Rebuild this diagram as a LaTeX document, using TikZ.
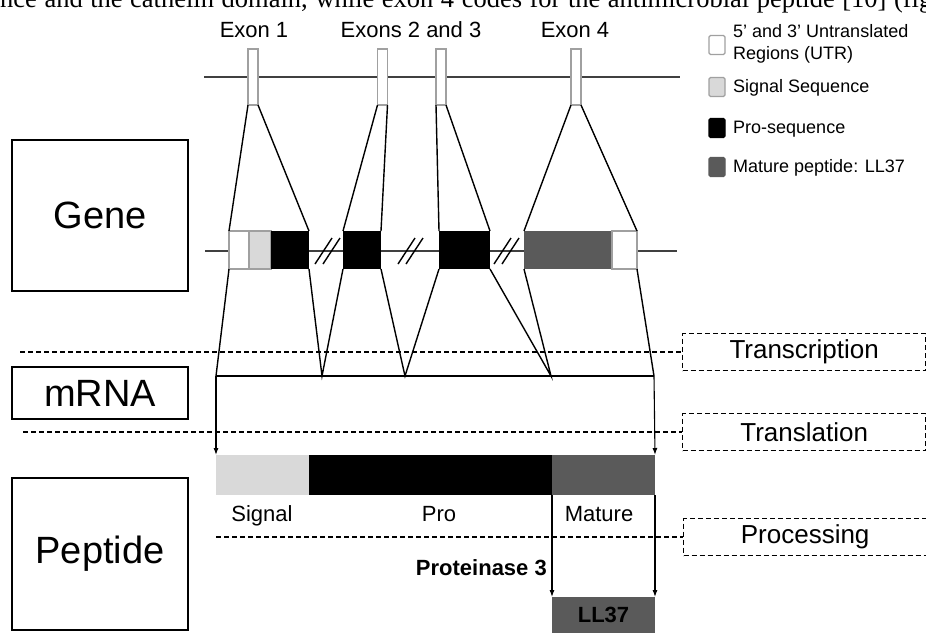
\documentclass[tikz,border=0pt]{standalone}
\usepackage{fontspec}
\setmainfont{Liberation Sans}
\newfontfamily\paperfont{Liberation Serif}
\usetikzlibrary{arrows.meta}

\definecolor{siggray}{HTML}{D9D9D9}
\definecolor{matgray}{HTML}{5A5A5A}
\definecolor{rimgray}{HTML}{A0A0A0}
\definecolor{dnagray}{HTML}{404040}

\tikzset{
  seg/.style={rectangle, inner sep=0pt, outer sep=0pt, anchor=south west},
  utrpart/.style={seg, fill=white, draw=rimgray, line width=1.2pt},
  sigpart/.style={seg, fill=siggray, draw=rimgray, line width=1.2pt},
  propart/.style={seg, fill=black},
  matpart/.style={seg, fill=matgray},
  exonbox/.style={rectangle, inner sep=0pt, outer sep=0pt, minimum width=10pt, minimum height=56pt, fill=white, draw=rimgray, line width=1.2pt},
  stagebox/.style={draw, line width=1.3pt, minimum width=176pt, inner sep=0pt, font=\fontsize{38}{40}\selectfont},
  stepname/.style={draw, dash pattern=on 5pt off 3pt, line width=1.3pt, minimum width=243pt, minimum height=37pt, inner sep=0pt, anchor=west, font=\fontsize{26}{28}\selectfont},
  keybox/.style={rectangle, rounded corners=1.5pt, minimum width=16pt, minimum height=19pt, inner sep=0pt, draw=rimgray, line width=1.2pt},
  keytext/.style={anchor=west, align=left, inner sep=0pt, font=\fontsize{18}{22}\selectfont},
  lbl/.style={anchor=base, inner sep=0pt, font=\fontsize{22}{24}\selectfont},
  phase/.style={dash pattern=on 5pt off 3pt, line width=1.4pt},
  exonlink/.style={line width=1.4pt},
  cut/.style={-{Latex[length=7pt,width=5pt]}, line width=1.1pt}
}

\begin{document}
\begin{tikzpicture}[x=1pt, y=-1pt]
    \useasboundingbox (0,0) rectangle (926,633);

    % clipped line of the surrounding text
    \begin{scope}
        \clip (0,0) rectangle (926,633);
        \node[anchor=base west, inner sep=0pt, font=\paperfont\fontsize{26.5}{28}\selectfont] (paper) at (0,7)
            {\hbox to 932pt{nce and the cathelin domain, while exon 4 codes for the antimicrobial peptide [10] (fig}};
    \end{scope}

    % --- stages on the left ---
    \node[stagebox, minimum height=151pt] (gene) at (100,215.5) {Gene};
    \node[stagebox, minimum height=52pt] (mrna) at (100,393) {mRNA};
    \node[stagebox, minimum height=152pt] (peptide) at (100,554) {Peptide};

    % --- genomic locus (top) ---
    \draw[dnagray, line width=1.3pt] (204,77) -- (680,77);
    \node[exonbox] (ex1) at (253,77) {};
    \node[exonbox] (ex2) at (382.5,77) {};
    \node[exonbox] (ex3) at (441,77) {};
    \node[exonbox] (ex4) at (576,77) {};
    \node[lbl] (lex1) at (254,37) {Exon 1};
    \node[lbl] (lex23) at (411,37) {Exons 2 and 3};
    \node[lbl] (lex4) at (575,37) {Exon 4};

    % --- exons enlarged ---
    \draw[dnagray, line width=1.3pt] (205,251) -- (677,251);
    \node[utrpart, minimum width=20pt, minimum height=38pt] (utr5) at (229,269) {};
    \node[sigpart, minimum width=22pt, minimum height=38pt] (sig) at (249,269) {};
    \node[propart, minimum width=38pt, minimum height=38pt] (pro1) at (271,269) {};
    \node[propart, minimum width=38pt, minimum height=38pt] (pro2) at (343,269) {};
    \node[propart, minimum width=51pt, minimum height=38pt] (pro3) at (439,269) {};
    \node[matpart, minimum width=88pt, minimum height=38pt] (mat) at (524,269) {};
    \node[utrpart, minimum width=25pt, minimum height=38pt] (utr3) at (612,269) {};
    % intron breaks
    \foreach \bx in {327,410,506}
        \draw[line width=1.4pt] (\bx-12,264) -- (\bx+5,238) (\bx-4,264) -- (\bx+13,238);

    \draw[exonlink] (ex1.south west) -- (utr5.north west);
    \draw[exonlink] (ex1.south east) -- (pro1.north east);
    \draw[exonlink] (ex2.south west) -- (pro2.north west);
    \draw[exonlink] (ex2.south east) -- (pro2.north east);
    \draw[exonlink] (ex3.south west) -- (pro3.north west);
    \draw[exonlink] (ex3.south east) -- (pro3.north east);
    \draw[exonlink] (ex4.south west) -- (mat.north west);
    \draw[exonlink] (ex4.south east) -- (utr3.north east);

    % --- splicing into the mRNA ---
    \coordinate (m0) at (216,376);
    \coordinate (m1) at (322,376);
    \coordinate (m2) at (405,376);
    \coordinate (m3) at (551,376);
    \coordinate (m4) at (654,376);
    \draw[exonlink] (utr5.south west) -- (m0);
    \draw[exonlink] (pro1.south east) -- (m1) -- (pro2.south west);
    \draw[exonlink] (pro2.south east) -- (m2) -- (pro3.south west);
    \draw[exonlink] (pro3.south east) -- (m3) -- (mat.south west);
    \draw[exonlink] (utr3.south east) -- (m4);
    \draw[line width=2.2pt] (m0) -- (m4);

    % --- peptide ---
    \node[sigpart, draw=none, minimum width=93pt, minimum height=40pt] (psig) at (216,495) {};
    \node[propart, minimum width=243pt, minimum height=40pt] (ppro) at (309,495) {};
    \node[matpart, minimum width=103pt, minimum height=40pt] (pmat) at (552,495) {};
    \node[lbl] (lsig) at (262,521) {Signal};
    \node[lbl] (lpro) at (439,521) {Pro};
    \node[lbl] (lmat) at (599,521) {Mature};
    \draw[cut] (m0) -- (psig.north west);
    \draw[cut] (m4) -- (pmat.north east);

    % LL37 after cleavage
    \node[matpart, minimum width=103pt, minimum height=36pt, font=\bfseries\fontsize{22}{24}\selectfont] (ll) at (552,633) {LL37};
    \draw[cut] (pmat.south west) -- (ll.north west);
    \draw[cut] (pmat.south east) -- (ll.north east);
    \node[anchor=base east, inner sep=0pt, font=\bfseries\fontsize{22}{24}\selectfont] (prot) at (547,575) {Proteinase 3};

    % --- steps ---
    \node[stepname] (trans) at (682,352) {Transcription};
    \node[stepname] (transl) at (682,432) {Translation};
    \node[stepname] (proc) at (683,537) {Processing};
    \coordinate (t0) at (20,352);
    \coordinate (l0) at (23,432);
    \coordinate (p0) at (216,537);
    \draw[phase] (t0) -- (trans.west);
    \draw[phase] (l0) -- (transl.west);
    \draw[phase] (p0) -- (proc.west);

    % legend
    \node[keybox, fill=white] (kutr) at (717,45) {};
    \node[keytext] (tutr) at (733,44) {5' and 3' Untranslated\\Regions (UTR)};
    \node[keybox, fill=siggray] (ksig) at (717,87) {};
    \node[keytext] (tsig) at (733,88) {Signal Sequence};
    \node[keybox, fill=black, draw=black] (kpro) at (717,128) {};
    \node[keytext] (tpro) at (733,129) {Pro-sequence};
    \node[keybox, fill=matgray, draw=matgray] (kmat) at (717,167) {};
    \node[keytext] (tmat) at (733,168) {Mature peptide: LL37};

\end{tikzpicture}
\end{document}
